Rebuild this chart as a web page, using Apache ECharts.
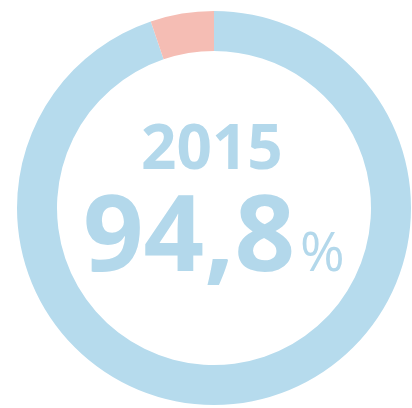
<!DOCTYPE html>
<html>
<head>
<meta charset="utf-8">
<script src="https://cdn.jsdelivr.net/npm/echarts@6/dist/echarts.min.js"></script>
<style>
  html, body { margin: 0; padding: 0; background: #fff; }
  #main { width: 412px; height: 408px; }
</style>
</head>
<body>
<div id="main"></div>
<script>
// share of the year, in percent
var names = ['Ja', 'Nein'];
var values = [94.8, 5.2];
var colors = ['#b6dbed', '#f5bdb4'];
var year = '2015';

var myChart = echarts.init(document.getElementById('main'));

var share = values[0].toFixed(1).replace('.', ',');

var option = {
    animation: false,
    graphic: [
        {
            type: 'text',
            left: 141,
            top: 120,
            style: {
                text: year,
                fill: '#b3d8eb',
                font: 'bold 62px "Open Sans"'
            }
        },
        {
            type: 'text',
            right: 117,
            top: 188,
            style: {
                text: share,
                fill: '#b3d8eb',
                font: 'bold 106px "Open Sans"'
            }
        },
        {
            type: 'text',
            left: 300,
            top: 229,
            style: {
                text: '%',
                fill: '#b3d8eb',
                font: '54px "Open Sans"'
            }
        }
    ],
    series: [
        {
            type: 'pie',
            center: [214, 208],
            radius: [157, 197],
            startAngle: 90,
            clockwise: true,
            label: { show: false },
            labelLine: { show: false },
            silent: true,
            data: names.map(function (n, i) {
                return { name: n, value: values[i], itemStyle: { color: colors[i] } };
            })
        }
    ]
};

myChart.setOption(option);
</script>
</body>
</html>
